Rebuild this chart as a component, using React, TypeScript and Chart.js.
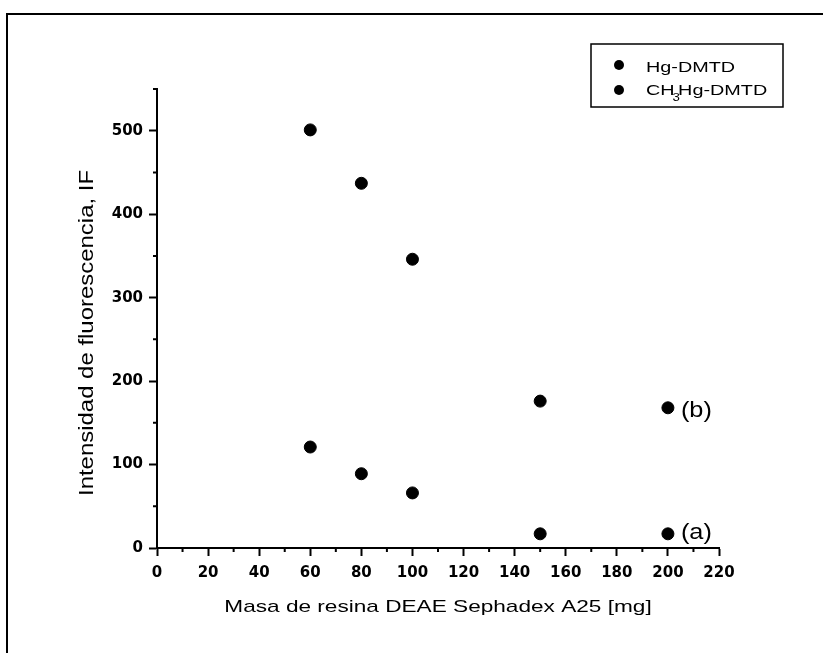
import React, { useEffect, useRef } from "react";
import { Chart, registerables } from "chart.js";

Chart.register(...registerables);

// ---- data ----
const masses = [60, 80, 100, 150, 200];
const hgDmtd = [121, 89, 66, 17, 17]; // curve (a)
const ch3HgDmtd = [501, 437, 346, 176, 168]; // curve (b)
const xTickValues = [0, 20, 40, 60, 80, 100, 120, 140, 160, 180, 200, 220];
const yTickValues = [0, 100, 200, 300, 400, 500];
const xMinorValues = [10, 30, 50, 70, 90, 110, 130, 150, 170, 190, 210];
const yMinorValues = [50, 150, 250, 350, 450, 550];
const curveLabels = ["(a)", "(b)"];
const xTitle = "Masa de resina DEAE Sephadex A25 [mg]";
const yTitle = "Intensidad de fluorescencia, IF";

const SANS = '"Liberation Sans", Arial, sans-serif';

function stretchedText(
  ctx: CanvasRenderingContext2D,
  text: string,
  x: number,
  y: number,
  sx: number,
  align: CanvasTextAlign,
  baseline: CanvasTextBaseline
) {
  ctx.save();
  ctx.translate(x, y);
  ctx.scale(sx, 1);
  ctx.textAlign = align;
  ctx.textBaseline = baseline;
  ctx.fillText(text, 0, 0);
  ctx.restore();
}

const decorPlugin = {
  id: "decor",
  afterDraw(chart: any) {
    const ctx: CanvasRenderingContext2D = chart.ctx;
    const xs = chart.scales.x;
    const ys = chart.scales.y;
    const area = chart.chartArea;
    ctx.save();
    ctx.strokeStyle = "#000";
    ctx.fillStyle = "#000";

    // outer frame (top + left)
    ctx.lineWidth = 2;
    ctx.beginPath();
    ctx.moveTo(7, chart.height);
    ctx.lineTo(7, 14);
    ctx.lineTo(chart.width - 2, 14);
    ctx.stroke();

    // minor ticks
    ctx.lineWidth = 2;
    ctx.beginPath();
    xMinorValues.forEach((v) => {
      const px = xs.getPixelForValue(v);
      ctx.moveTo(px, area.bottom);
      ctx.lineTo(px, area.bottom + 4);
    });
    yMinorValues.forEach((v) => {
      const py = ys.getPixelForValue(v);
      ctx.moveTo(area.left, py);
      ctx.lineTo(area.left - 4, py);
    });
    ctx.stroke();

    // axis titles
    ctx.font = `17px ${SANS}`;
    stretchedText(ctx, xTitle, (area.left + area.right) / 2, 607, 1.33, "center", "middle");
    ctx.save();
    ctx.translate(87, 333);
    ctx.rotate(-Math.PI / 2);
    ctx.font = `21px ${SANS}`;
    stretchedText(ctx, yTitle, 0, 0, 1.14, "center", "middle");
    ctx.restore();

    // legend
    ctx.lineWidth = 1.5;
    ctx.strokeRect(591, 44, 192, 63);
    const labels = chart.data.datasets.map((d: any) => d.label);
    const rows = [65, 90];
    rows.forEach((ry) => {
      ctx.beginPath();
      ctx.arc(619, ry, 5, 0, Math.PI * 2);
      ctx.fill();
    });
    const sx = 1.32;
    ctx.font = `15px ${SANS}`;
    stretchedText(ctx, labels[0], 646, 72, sx, "left", "alphabetic");
    // CH3Hg-DMTD with subscript
    const full: string = labels[1];
    const pre = full.slice(0, 2);
    const sub = full.slice(2, 3);
    const post = full.slice(3);
    let x = 646;
    stretchedText(ctx, pre, x, 95, sx, "left", "alphabetic");
    x += ctx.measureText(pre).width * sx - 2;
    ctx.font = `10px ${SANS}`;
    stretchedText(ctx, sub, x, 101, sx, "left", "alphabetic");
    x += ctx.measureText(sub).width * sx * 0.75;
    ctx.font = `15px ${SANS}`;
    stretchedText(ctx, post, x, 95, sx, "left", "alphabetic");

    // curve labels
    ctx.font = `22px ${SANS}`;
    const lastX = masses[masses.length - 1];
    const px = xs.getPixelForValue(lastX) + 13;
    stretchedText(ctx, curveLabels[0], px, ys.getPixelForValue(hgDmtd[hgDmtd.length - 1]) - 1, 1.15, "left", "middle");
    stretchedText(ctx, curveLabels[1], px, ys.getPixelForValue(ch3HgDmtd[ch3HgDmtd.length - 1]) + 3, 1.15, "left", "middle");
    ctx.restore();
  },
};

export default function App() {
  const ref = useRef<HTMLCanvasElement | null>(null);
  useEffect(() => {
    if (!ref.current) return;
    const tickFont = { family: '"DejaVu Sans", sans-serif', size: 15, weight: "bold" as const };
    const chart = new Chart(ref.current, {
      type: "scatter",
      data: {
        datasets: [
          {
            label: "Hg-DMTD",
            data: masses.map((m, i) => ({ x: m, y: hgDmtd[i] })),
            backgroundColor: "#000",
            borderColor: "#000",
            borderWidth: 1,
            pointRadius: 6,
            pointStyle: "circle",
            showLine: false,
          },
          {
            label: "CH3Hg-DMTD",
            data: masses.map((m, i) => ({ x: m, y: ch3HgDmtd[i] })),
            backgroundColor: "#000",
            borderColor: "#000",
            borderWidth: 1,
            pointRadius: 6,
            pointStyle: "circle",
            showLine: false,
          },
        ],
      },
      options: {
        responsive: false,
        animation: false,
        layout: { padding: { left: 0, top: 89, right: 106, bottom: 0 } },
        plugins: { legend: { display: false }, tooltip: { enabled: false } },
        scales: {
          x: {
            type: "linear",
            min: 0,
            max: 220,
            afterBuildTicks: (s: any) => {
              s.ticks = xTickValues.map((v) => ({ value: v }));
            },
            afterFit: (s: any) => {
              s.height = 105;
            },
            grid: {
              drawOnChartArea: false,
              drawTicks: true,
              tickLength: 8,
              tickColor: "#000",
              tickWidth: 2,
            },
            border: { display: true, color: "#000", width: 2 },
            ticks: {
              color: "#000",
              padding: 8,
              maxRotation: 0,
              autoSkip: false,
              font: tickFont,
            },
          },
          y: {
            type: "linear",
            min: 0,
            max: 550,
            afterBuildTicks: (s: any) => {
              s.ticks = yTickValues.map((v) => ({ value: v }));
            },
            afterFit: (s: any) => {
              s.width = 157;
            },
            grid: {
              drawOnChartArea: false,
              drawTicks: true,
              tickLength: 8,
              tickColor: "#000",
              tickWidth: 2,
            },
            border: { display: true, color: "#000", width: 2 },
            ticks: {
              color: "#000",
              padding: 6,
              autoSkip: false,
              font: tickFont,
            },
          },
        },
      },
      plugins: [decorPlugin],
    });
    return () => chart.destroy();
  }, []);
  return (
    <div style={{ position: "absolute", left: 0, top: 0, width: 825, height: 653, background: "#fff" }}>
      <canvas ref={ref} width={825} height={653} style={{ display: "block" }} />
    </div>
  );
}
